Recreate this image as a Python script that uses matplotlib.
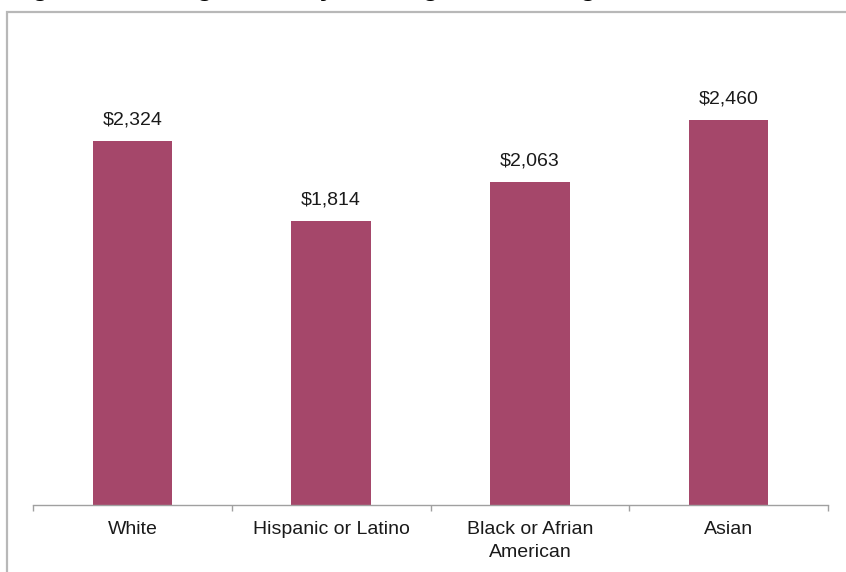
import matplotlib.pyplot as plt
from matplotlib.patches import Rectangle

# data
groups = ['White', 'Hispanic or Latino', 'Black or Afrian\nAmerican', 'Asian']
earnings = [2324, 1814, 2063, 2460]
value_labels = ['$2,324', '$1,814', '$2,063', '$2,460']

plt.rcParams['font.family'] = ['Liberation Sans', 'DejaVu Sans']

fig = plt.figure(figsize=(8.46, 5.72), dpi=100)

# outer frame (cut off at right and bottom in the original)
frame = Rectangle((7 / 846, -0.1), 1.2, (572 - 12) / 572 + 0.1,
                  transform=fig.transFigure, fill=False,
                  edgecolor='#b8b8b8', linewidth=1.6)
fig.patches.append(frame)

# title, mostly cut off by the top edge
fig.text(9 / 846, 1 + 4 / 572,
         'Figure 1: Average Monthly Earnings of Working Students',
         fontsize=18.7, fontweight='bold', va='baseline', ha='left')

ax = fig.add_axes([33 / 846, 67 / 572, 795 / 846, 470 / 572])
x = range(len(groups))
bars = ax.bar(x, earnings, width=0.4, color='#a5476a')

for b, lab in zip(bars, value_labels):
    ax.annotate(lab, (b.get_x() + b.get_width() / 2, b.get_height()),
                xytext=(0, 9), textcoords='offset points',
                ha='center', va='bottom', fontsize=14, color='#1a1a1a')

ax.set_xlim(-0.5, 3.5)
ax.set_ylim(0, 3000)
ax.set_xticks([i - 0.5 for i in range(len(groups) + 1)])
ax.set_xticklabels([])
ax.set_xticks(list(x), minor=True)
ax.set_xticklabels(groups, minor=True, fontsize=14, color='#1a1a1a',
                   linespacing=1.45)
ax.tick_params(axis='x', which='major', direction='out', length=4,
               color='#a0a0a0', width=1)
ax.tick_params(axis='x', which='minor', length=0, pad=11.5)
ax.set_yticks([])
for s in ['top', 'right', 'left']:
    ax.spines[s].set_visible(False)
ax.spines['bottom'].set_color('#a0a0a0')
ax.spines['bottom'].set_linewidth(1)

fig.savefig('out.png', dpi=100)
